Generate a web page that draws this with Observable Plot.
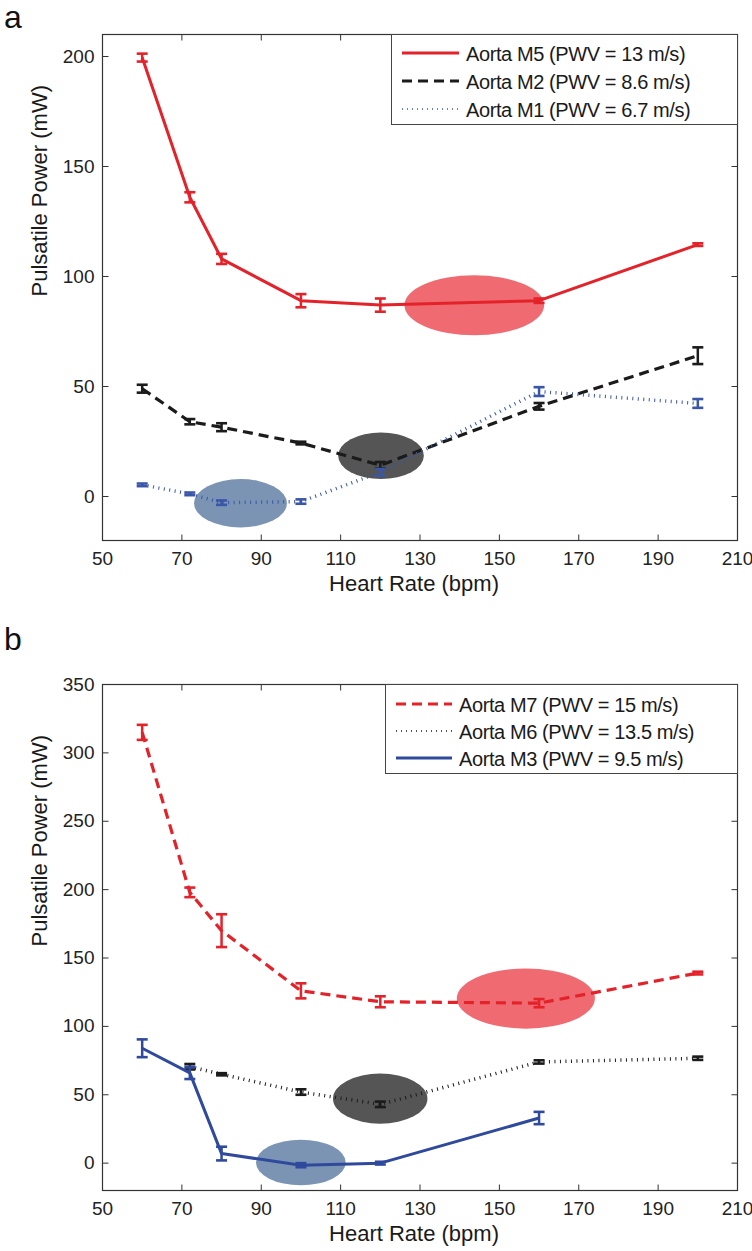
<!DOCTYPE html>
<html><head><meta charset="utf-8">
<script src="https://cdn.jsdelivr.net/npm/d3@7"></script>
<script src="https://cdn.jsdelivr.net/npm/@observablehq/plot@0.6"></script>
<style>
body{margin:0;background:#fff;font-family:"Liberation Sans",Arial,sans-serif;}
#root{position:relative;width:752px;height:1251px;overflow:hidden;background:#fff;}
.panel{position:absolute;left:0;}
.letter{position:absolute;font-size:32px;color:#111;line-height:1;}
.legend{position:absolute;border:1px solid #444;background:#fff;box-sizing:border-box;}
.legend svg{position:absolute;left:0;top:0;}
.entry{position:absolute;font-size:20px;letter-spacing:-0.4px;white-space:nowrap;color:#1a1a1a;line-height:22px;}
</style></head><body><div id="root"></div>
<script>
// ---------- data ----------
const xTicks = [50, 70, 90, 110, 130, 150, 170, 190, 210];
const yTicksA = [0, 50, 100, 150, 200];
const yTicksB = [0, 50, 100, 150, 200, 250, 300, 350];

const heartRate = [60, 72, 80, 100, 120, 160, 200];

// panel a
const m5 = [199.5, 136, 108, 89, 87, 89, 114.5];
const m5Err = [1.8, 2.3, 2.3, 3, 3, 1, 0.6];
const m2 = [49, 34, 31.5, 24.3, 14.2, 41, 64];
const m2Err = [1.8, 1.2, 1.8, 0.6, 1.5, 1.5, 3.8];
const m1 = [5.3, 1.2, -2.8, -2.3, 11, 47.7, 42.3];
const m1Err = [0.6, 0.6, 1, 1, 1.5, 2, 2];

// panel b
const m7 = [315, 198, 170, 126, 118, 117, 139];
const m7Err = [5.5, 3.5, 12, 5.5, 4, 3, 1];
const hrM6 = [72, 80, 100, 120, 160, 200];
const m6 = [70.5, 65, 52, 43, 74, 76.7];
const m6Err = [2, 0.8, 2, 2, 1.2, 1.2];
const hrM3 = [60, 72, 80, 100, 120, 160];
const m3 = [84, 66, 7, -1.5, 0, 33];
const m3Err = [6.5, 4.5, 5, 1.5, 1, 4.5];

// highlighted regions (centre and half-extent, data units)
const ellA_x = [143.8, 120.3, 84.9], ellA_y = [86.7, 18.3, -3.3], ellA_rx = [17.6, 10.8, 11.7], ellA_ry = [13.6, 10.6, 11];
const ellB_x = [156.8, 120.1, 100.1], ellB_y = [120, 46.8, 0.1], ellB_rx = [17.4, 11.9, 11.3], ellB_ry = [22, 18.3, 16.7];

const legendA = ["Aorta M5 (PWV = 13 m/s)", "Aorta M2 (PWV = 8.6 m/s)", "Aorta M1 (PWV = 6.7 m/s)"];
const legendB = ["Aorta M7 (PWV = 15 m/s)", "Aorta M6 (PWV = 13.5 m/s)", "Aorta M3 (PWV = 9.5 m/s)"];

// ---------- styles ----------
const RED = "#e3222a", BLACK = "#1b1b1b", BLUE = "#2f4a9d", BLUE_DOT = "#3a56a8";
const ELL_COLORS = ["#f06b71", "#555555", "#7b94b3"];
const SOLID = {strokeWidth: 3, dash: null};
const DASHED = {strokeWidth: 3.2, dash: "10,6"};
const DOTTED = {strokeWidth: 3.5, dash: "1,4.5"};

const rows = (xs, ys, errs) => xs.map((x, i) => ({x, y: ys[i], lo: ys[i] - errs[i], hi: ys[i] + errs[i]}));

const cap = {draw(ctx) { ctx.moveTo(-5.5, 0); ctx.lineTo(5.5, 0); }};
const tickUp = {draw(ctx) { ctx.moveTo(0, 0); ctx.lineTo(0, -6); }};
const tickDown = {draw(ctx) { ctx.moveTo(0, 0); ctx.lineTo(0, 6); }};
const tickRight = {draw(ctx) { ctx.moveTo(0, 0); ctx.lineTo(6, 0); }};
const tickLeft = {draw(ctx) { ctx.moveTo(0, 0); ctx.lineTo(-6, 0); }};

function ellipseMark(cx, cy, rx, ry) {
  return (index, scales) => {
    const g = d3.create("svg:g");
    cx.forEach((c, i) => {
      const x0 = scales.x(c - rx[i]), x1 = scales.x(c + rx[i]);
      const y0 = scales.y(cy[i] + ry[i]), y1 = scales.y(cy[i] - ry[i]);
      g.append("ellipse")
        .attr("cx", (x0 + x1) / 2).attr("cy", (y0 + y1) / 2)
        .attr("rx", Math.abs(x1 - x0) / 2).attr("ry", Math.abs(y1 - y0) / 2)
        .attr("fill", ELL_COLORS[i]);
    });
    return g.node();
  };
}

function seriesMarks(data, color, style) {
  return [
    Plot.line(data, {x: "x", y: "y", stroke: color, strokeWidth: style.strokeWidth, strokeDasharray: style.dash, strokeLinejoin: "miter", strokeLinecap: "butt"}),
    Plot.ruleX(data, {x: "x", y1: "lo", y2: "hi", stroke: color, strokeWidth: 2.5}),
    Plot.dot(data, {x: "x", y: "lo", symbol: cap, stroke: color, fill: "none", strokeWidth: 2.6}),
    Plot.dot(data, {x: "x", y: "hi", symbol: cap, stroke: color, fill: "none", strokeWidth: 2.6})
  ];
}

function panel({series, ell, yDomain, yTicks, height, marginTop, marginBottom}) {
  return Plot.plot({
    width: 752, height, marginTop, marginBottom, marginLeft: 102, marginRight: 15,
    style: {fontFamily: "'Liberation Sans', Arial, sans-serif", fontSize: "19px", color: "#222", background: "#fff"},
    x: {domain: [50, 210]},
    y: {domain: yDomain},
    marks: [
      ellipseMark(...ell),
      ...series.flatMap(s => seriesMarks(s.data, s.color, s.style)),
      Plot.frame({stroke: "#333", strokeWidth: 1.2}),
      Plot.dot(xTicks, {x: d => d, frameAnchor: "bottom", symbol: tickUp, stroke: "#333", fill: "none", strokeWidth: 1}),
      Plot.dot(xTicks, {x: d => d, frameAnchor: "top", symbol: tickDown, stroke: "#333", fill: "none", strokeWidth: 1}),
      Plot.dot(yTicks, {y: d => d, frameAnchor: "left", symbol: tickRight, stroke: "#333", fill: "none", strokeWidth: 1}),
      Plot.dot(yTicks, {y: d => d, frameAnchor: "right", symbol: tickLeft, stroke: "#333", fill: "none", strokeWidth: 1}),
      Plot.axisX({ticks: xTicks, tickSize: 0, tickPadding: 11, label: null, fontSize: 19}),
      Plot.axisY({ticks: yTicks, tickSize: 0, tickPadding: 8, label: null, fontSize: 19}),
      Plot.text(["Heart Rate (bpm)"], {text: d => d, frameAnchor: "bottom", dy: 43, dx: -6, fontSize: 22, lineAnchor: "middle", fill: "#1a1a1a"}),
      Plot.text(["Pulsatile Power (mW)"], {text: d => d, frameAnchor: "left", dx: -63, dy: 9, rotate: -90, fontSize: 22, lineAnchor: "middle", fill: "#1a1a1a"})
    ]
  });
}

const root = document.getElementById("root");

function place(node, top) {
  const d = document.createElement("div");
  d.className = "panel"; d.style.top = top + "px";
  d.appendChild(node); root.appendChild(d);
}

place(panel({
  series: [
    {data: rows(heartRate, m5, m5Err), color: RED, style: SOLID},
    {data: rows(heartRate, m2, m2Err), color: BLACK, style: DASHED},
    {data: rows(heartRate, m1, m1Err), color: BLUE_DOT, style: DOTTED}
  ],
  ell: [ellA_x, ellA_y, ellA_rx, ellA_ry],
  yDomain: [-20, 210], yTicks: yTicksA, height: 600, marginTop: 34, marginBottom: 60
}), 0);

place(panel({
  series: [
    {data: rows(heartRate, m7, m7Err), color: RED, style: DASHED},
    {data: rows(hrM6, m6, m6Err), color: BLACK, style: DOTTED},
    {data: rows(hrM3, m3, m3Err), color: BLUE, style: SOLID}
  ],
  ell: [ellB_x, ellB_y, ellB_rx, ellB_ry],
  yDomain: [-20, 350], yTicks: yTicksB, height: 651, marginTop: 84, marginBottom: 61
}), 600);

function letter(t, left, top) {
  const d = document.createElement("div");
  d.className = "letter"; d.textContent = t;
  d.style.left = left + "px"; d.style.top = top + "px";
  root.appendChild(d);
}
letter("a", 4, 1);
letter("b", 4, 623);

function legend(labels, styles, colors, box) {
  const d = document.createElement("div");
  d.className = "legend";
  Object.assign(d.style, {left: box.left + "px", top: box.top + "px", width: box.width + "px", height: box.height + "px"});
  const svg = d3.create("svg").attr("width", box.width).attr("height", box.height);
  labels.forEach((lab, i) => {
    const cy = box.rows[i];
    svg.append("line").attr("x1", box.sx0).attr("x2", box.sx1).attr("y1", cy).attr("y2", cy)
      .attr("stroke", colors[i]).attr("stroke-width", styles[i].strokeWidth)
      .attr("stroke-dasharray", styles[i].dash);
    const e = document.createElement("div");
    e.className = "entry"; e.textContent = lab;
    e.style.left = box.tx + "px"; e.style.top = (cy - 10) + "px";
    d.appendChild(e);
  });
  d.insertBefore(svg.node(), d.firstChild);
  root.appendChild(d);
}

legend(legendA, [SOLID, DASHED, {strokeWidth: 1.5, dash: "1,4"}], [RED, BLACK, BLUE_DOT],
  {left: 391, top: 34, width: 347, height: 91, rows: [18, 46, 74], sx0: 10, sx1: 67, tx: 74});
legend(legendB, [DASHED, {strokeWidth: 1.5, dash: "1,4"}, SOLID], [RED, BLACK, BLUE],
  {left: 385, top: 684, width: 353, height: 90, rows: [19, 46, 73], sx0: 10, sx1: 66, tx: 73});
</script>
</body></html>
